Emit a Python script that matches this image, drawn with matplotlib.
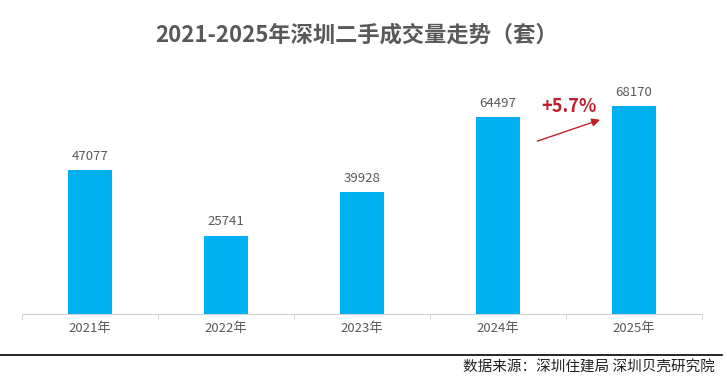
import matplotlib
matplotlib.use("Agg")
import matplotlib.pyplot as plt

plt.rcParams['font.family'] = ['Noto Sans CJK SC', 'DejaVu Sans']

years = ["2021年", "2022年", "2023年", "2024年", "2025年"]
volumes = [47077, 25741, 39928, 64497, 68170]
title = "2021-2025年深圳二手成交量走势（套）"
growth_label = "+5.7%"
source = "数据来源：深圳住建局 深圳贝壳研究院"

fig = plt.figure(figsize=(7.27, 3.77), dpi=100)
ax = fig.add_axes([22/727, (377-314)/377, 680/727, (314-60)/377])

x = list(range(len(years)))
ax.bar(x, volumes, width=0.32, color="#00B0F0", zorder=2)
ax.set_xlim(-0.5, len(years)-0.5)
ax.set_ylim(0, 83300)

for xi, v in zip(x, volumes):
    ax.text(xi, v + 2500, str(v), ha="center", va="bottom", fontsize=9.5, color="#595959")

for s in ["top", "right", "left"]:
    ax.spines[s].set_visible(False)
ax.spines["bottom"].set_color("#d0d0d0")
ax.set_yticks([])
ax.set_xticks(x)
ax.set_xticklabels(years, fontsize=9.5, color="#595959")
ax.tick_params(axis="x", length=0, pad=6)
ax.set_xticks([i - 0.5 for i in range(len(years)+1)], minor=True)
ax.tick_params(axis="x", which="minor", length=4, color="#d0d0d0")

# growth annotation
ax.annotate("", xy=(3.77, 64000), xytext=(3.27, 56400),
            arrowprops=dict(arrowstyle="-|>", color="#c0202a", lw=1.0, mutation_scale=12))
ax.text(3.52, 68000, growth_label, ha="center", va="center", fontsize=13,
        fontweight="bold", color="#c0202a")

fig.text(356/727, 1 - 35/377, title, ha="center", va="center", fontsize=16,
         fontweight="bold", color="#595959")

fig.add_artist(plt.Line2D([0, 722/727], [1 - 355/377, 1 - 355/377], color="black", lw=1.2))
fig.text(715/727, 1 - 368/377, source, ha="right", va="center", fontsize=10.5, color="#222222")

fig.savefig("out.png", dpi=100)
